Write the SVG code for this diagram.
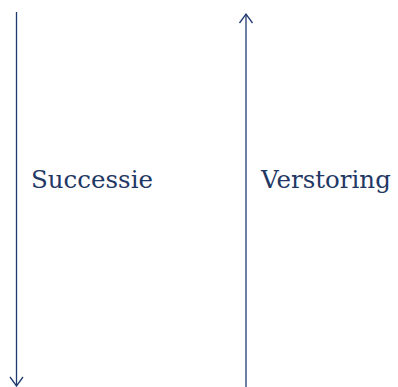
<svg xmlns="http://www.w3.org/2000/svg" width="398" height="387" viewBox="0 0 398 387">
<style>
.c{stroke:#1f3a6e;stroke-width:1.3;fill:none}
.t{font-family:"DejaVu Serif","Liberation Serif",serif;font-size:24.5px;fill:#1f3864}
</style>
<rect width="398" height="387" fill="#fff"/>
<g id="connectors">
<line class="c" x1="16.5" y1="12" x2="16.5" y2="386"/>
<polyline class="c" points="10,377 16.5,386 23,377"/>
<line class="c" x1="246" y1="387" x2="246" y2="14"/>
<polyline class="c" points="239.5,23 246,14 252.5,23"/>
</g>
<g id="successie"><text class="t" x="31" y="188">Successie</text></g>
<g id="verstoring"><text class="t" x="261" y="188">Verstoring</text></g>
</svg>
